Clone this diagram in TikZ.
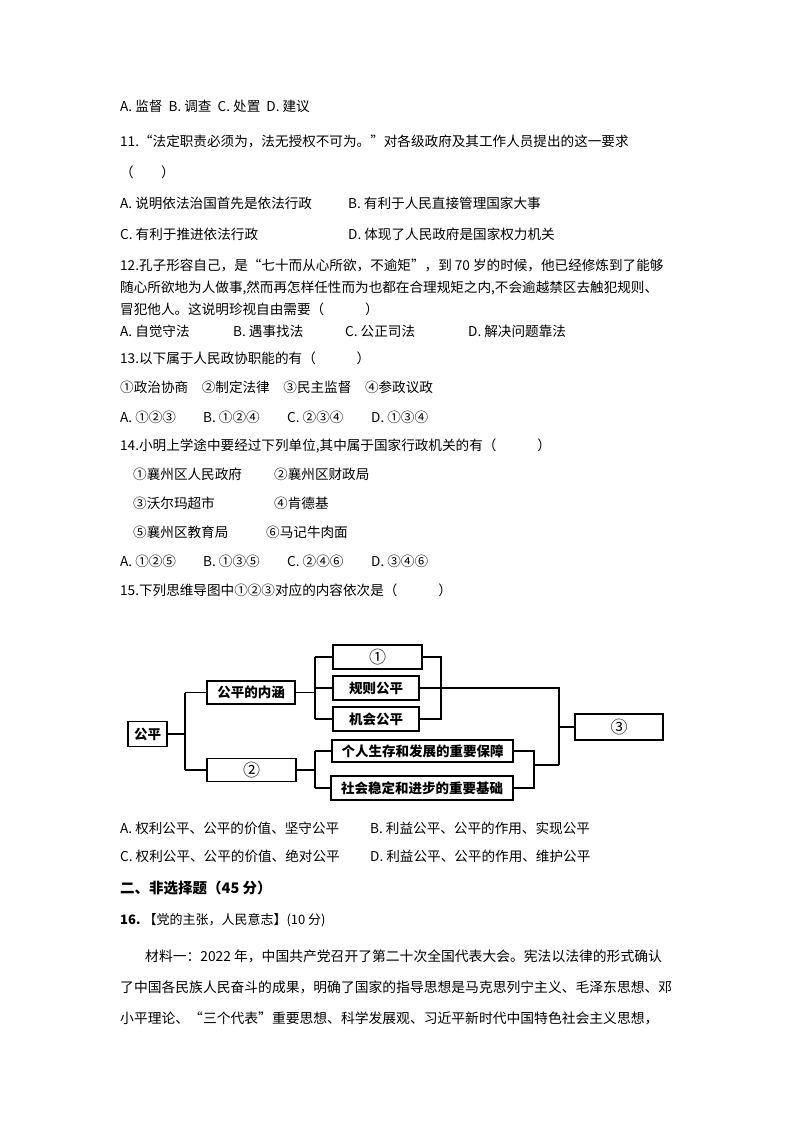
\documentclass[tikz,border=0pt]{standalone}
\usepackage{fontspec}
\setmainfont{Noto Sans CJK SC}
\begin{document}
\begin{tikzpicture}[x=1pt,y=-1pt,
  t/.style={anchor=west,inner sep=0pt,font=\fontsize{13.6}{15}\selectfont},
  m/.style={anchor=west,inner sep=0pt,font=\fontsize{13.8}{15}\selectfont},
  bx/.style={draw,line width=1.3pt,inner sep=0pt,font=\fontsize{13.5}{15}\selectfont\bfseries},
  ln/.style={line width=1.1pt}]
\useasboundingbox[fill=white] (0,0) rectangle (794,1123);
\node[t] (l1) at (120,106) {A. 监督\ \ B. 调查\ \ C. 处置\ \ D. 建议};
\node[t] (l2) at (120,141) {11.“法定职责必须为，法无授权不可为。”对各级政府及其工作人员提出的这一要求};
\node[t] (l3) at (120,172) {（\qquad）};
\node[t] (l4a) at (120,203) {A.\ 说明依法治国首先是依法行政};
\node[t] (l4b) at (348,203) {B.\ 有利于人民直接管理国家大事};
\node[t] (l5a) at (120,234) {C.\ 有利于推进依法行政};
\node[t] (l5b) at (348,234) {D.\ 体现了人民政府是国家权力机关};
\node[t] (l6) at (120,265) {12.孔子形容自己，是“七十而从心所欲，不逾矩”，到 70 岁的时候，他已经修炼到了能够};
\node[t] (l7) at (120,288) {随心所欲地为人做事,然而再怎样任性而为也都在合理规矩之内,不会逾越禁区去触犯规则、};
\node[t] (l8) at (120,309) {冒犯他人。这说明珍视自由需要（\qquad\quad）};
\node[t] (l9a) at (120,331) {A.\ 自觉守法};
\node[t] (l9b) at (233,331) {B.\ 遇事找法};
\node[t] (l9c) at (345,331) {C.\ 公正司法};
\node[t] (l9d) at (468,331) {D.\ 解决问题靠法};
\node[t] (l10) at (120,358) {13.以下属于人民政协职能的有（\qquad\quad）};
\node[t] (l11) at (120,387) {①政治协商\quad ②制定法律\quad ③民主监督\quad ④参政议政};
\node[t] (l12a) at (120,417) {A.\ ①②③};
\node[t] (l12b) at (203,417) {B.\ ①②④};
\node[t] (l12c) at (287,417) {C.\ ②③④};
\node[t] (l12d) at (371,417) {D.\ ①③④};
\node[t] (l13) at (120,446) {14.小明上学途中要经过下列单位,其中属于国家行政机关的有（\qquad\quad）};
\node[t] (l14a) at (133,474) {①襄州区人民政府};
\node[t] (l14b) at (274,474) {②襄州区财政局};
\node[t] (l15a) at (133,503) {③沃尔玛超市};
\node[t] (l15b) at (274,503) {④肯德基};
\node[t] (l16a) at (133,532) {⑤襄州区教育局};
\node[t] (l16b) at (266,532) {⑥马记牛肉面};
\node[t] (l17a) at (120,561) {A.\ ①②⑤};
\node[t] (l17b) at (203,561) {B.\ ①③⑤};
\node[t] (l17c) at (287,561) {C.\ ②④⑥};
\node[t] (l17d) at (371,561) {D.\ ③④⑥};
\node[t] (l18) at (120,590) {15.下列思维导图中①②③对应的内容依次是（\qquad\quad）};
% diagram
\node[bx,minimum width=39pt,minimum height=25pt] (gp) at (147.5,734) {公平};
\node[bx,minimum width=88pt,minimum height=23pt] (nh) at (251,692.5) {公平的内涵};
\node[bx,minimum width=89pt,minimum height=23pt,font=\fontsize{17}{17}\selectfont] (c2) at (251.5,770) {②};
\node[bx,minimum width=89pt,minimum height=24pt,font=\fontsize{17}{17}\selectfont] (c1) at (377.5,657) {①};
\node[bx,minimum width=86pt,minimum height=24pt] (gz) at (376,688) {规则公平};
\node[bx,minimum width=86pt,minimum height=24pt] (jh) at (376,719) {机会公平};
\node[bx,minimum width=181pt,minimum height=22pt] (gr) at (422.5,751) {个人生存和发展的重要保障};
\node[bx,minimum width=182pt,minimum height=24pt] (sh) at (422,788) {社会稳定和进步的重要基础};
\node[bx,minimum width=88pt,minimum height=26pt,font=\fontsize{17}{17}\selectfont] (c3) at (619,727) {③};
\coordinate (p1) at (185,734);
\draw[ln] (gp.east) -- (p1) (nh.west -| p1) -- (c2.west -| p1);
\draw[ln] (nh.west -| p1) -- (nh.west) (c2.west -| p1) -- (c2.west);
\coordinate (p2) at (315,692.5);
\draw[ln] (nh.east) -- (p2) (c1.west -| p2) -- (jh.west -| p2);
\draw[ln] (c1.west -| p2) -- (c1.west) (gz.west -| p2) -- (gz.west) (jh.west -| p2) -- (jh.west);
\coordinate (p3) at (441,657);
\draw[ln] (c1.east) -- (p3) -- (441,719) -- (jh.east);
\coordinate (p5) at (559,688);
\draw[ln] (gz.east) -- (p5) -- (559,765);
\draw[ln] (559,727) -- (c3.west);
\coordinate (p4) at (315,770);
\draw[ln] (c2.east) -- (p4) (315,751) -- (315,788);
\draw[ln] (315,751) -- (gr.west) (315,788) -- (sh.west);
\draw[ln] (gr.east) -- (534,751) -- (534,788) -- (sh.east) (534,765) -- (559,765);
% answers
\node[t] (l19a) at (120,828) {A.\ 权利公平、公平的价值、坚守公平};
\node[t] (l19b) at (370,828) {B.\ 利益公平、公平的作用、实现公平};
\node[t] (l20a) at (120,856) {C.\ 权利公平、公平的价值、绝对公平};
\node[t] (l20b) at (370,856) {D.\ 利益公平、公平的作用、维护公平};
\node[t,font=\fontsize{14.5}{16}\selectfont\bfseries] (h2) at (120,888) {二、非选择题（45 分）};
\node[t,font=\fontsize{13}{15}\selectfont] (q16) at (120,920) {\textbf{16.}\ 【党的主张，人民意志】(10 分)};
\node[m] (p1t) at (145,956) {材料一：2022 年，中国共产党召开了第二十次全国代表大会。宪法以法律的形式确认};
\node[m] (p2t) at (120,987) {了中国各民族人民奋斗的成果，明确了国家的指导思想是马克思列宁主义、毛泽东思想、邓};
\node[m] (p3t) at (120,1018) {小平理论、“三个代表”重要思想、科学发展观、习近平新时代中国特色社会主义思想，};
\end{tikzpicture}
\end{document}
